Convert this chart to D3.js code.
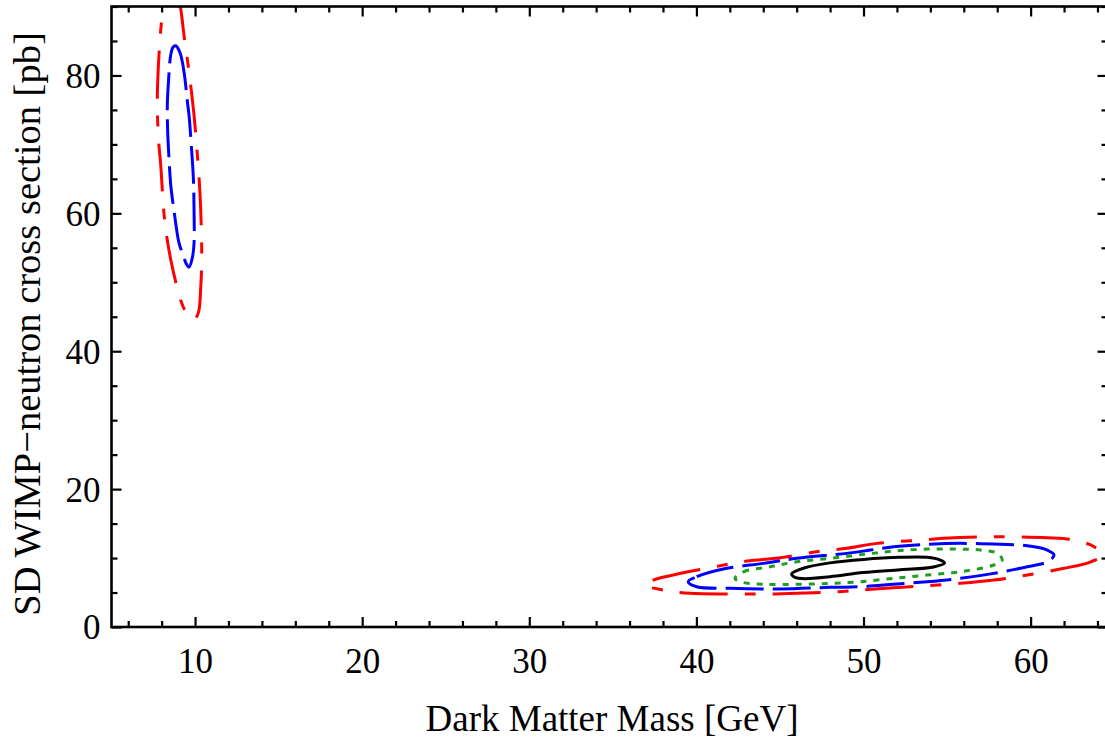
<!DOCTYPE html>
<html>
<head>
<meta charset="utf-8">
<script src="https://cdn.jsdelivr.net/npm/d3@7/dist/d3.min.js"></script>
<style>
  html, body { margin: 0; padding: 0; background: #fff; }
  svg { display: block; }
  text { font-family: "Liberation Serif", "DejaVu Serif", serif; fill: #000; }
</style>
</head>
<body>
<svg id="chart" width="1105" height="744"></svg>
<script>
// ---- Data ----
const xDomain = [5, 64.6];
const yDomain = [0, 90];
const xMajorTicks = [10, 20, 30, 40, 50, 60];
const xMinorTicks = [6, 8, 12, 14, 16, 18, 22, 24, 26, 28, 32, 34, 36, 38, 42, 44, 46, 48, 52, 54, 56, 58, 62, 64];
const yMajorTicks = [0, 20, 40, 60, 80];
const yMinorTicks = [5, 10, 15, 25, 30, 35, 45, 50, 55, 65, 70, 75, 85, 90];
const xLabel = "Dark Matter Mass [GeV]";
const yLabel = "SD WIMP\u2212neutron cross section [pb]";

// Low-mass island, outer (red, dash-dot) contour – extends beyond the top
const redLeft = [
  [8.60, 93.5], [8.95, 92.0], [9.14, 89.7], [9.34, 85.8], [9.64, 80.5], [9.94, 74.2],
  [10.14, 68.4], [10.24, 65.2], [10.34, 60.4], [10.40, 53.2], [10.34, 49.3], [10.20, 45.6],
  [9.95, 44.6], [9.70, 44.9], [9.44, 45.7], [9.14, 47.4], [8.64, 52.2], [8.34, 56.1],
  [8.14, 60.0], [7.94, 67.2], [7.84, 69.9], [7.74, 75.7], [7.84, 82.9], [8.04, 88.7], [8.30, 92.0]
];
// Low-mass island, inner (blue, dashed) contour
const blueLeft = [
  [8.84, 84.3], [9.10, 83.3], [9.34, 80.5], [9.55, 76.0], [9.64, 74.2], [9.80, 69.0],
  [9.90, 65.0], [9.94, 60.5], [9.94, 55.7], [9.84, 53.6], [9.64, 52.2], [9.45, 52.8],
  [9.34, 53.6], [9.04, 55.7], [8.74, 60.4], [8.55, 64.0], [8.44, 68.0], [8.36, 72.0],
  [8.34, 75.7], [8.42, 79.5], [8.54, 82.9], [8.68, 84.1]
];
// High-mass island contours
const redRight = [
  [36.92, 6.09], [37.42, 6.81], [38.62, 7.54], [41.42, 8.88], [43.02, 9.57], [45.01, 10.04],
  [47.41, 11.01], [49.01, 11.41], [50.81, 12.13], [53.41, 12.61], [54.80, 12.86], [57.80, 13.09],
  [61.00, 12.94], [62.60, 12.61], [63.80, 11.64], [64.30, 10.43], [63.60, 9.46], [62.00, 8.51],
  [59.80, 7.54], [57.80, 6.81], [55.80, 6.33], [53.81, 5.99], [51.80, 5.70], [49.81, 5.36],
  [48.41, 5.12], [46.01, 4.88], [44.01, 4.78], [42.01, 4.78], [39.62, 4.88], [38.02, 5.36]
];
const blueRight = [
  [39.51, 6.57], [40.02, 7.29], [41.82, 8.51], [44.01, 9.23], [46.01, 9.96], [49.01, 10.68],
  [50.41, 11.16], [51.80, 11.64], [53.81, 11.99], [55.80, 12.13], [58.20, 11.99], [59.80, 11.78],
  [61.00, 11.16], [61.40, 10.43], [61.00, 9.46], [59.80, 8.74], [57.80, 7.78], [55.80, 7.06],
  [53.81, 6.57], [51.80, 6.19], [49.81, 5.84], [48.01, 5.75], [45.01, 5.51], [42.01, 5.61], [40.02, 5.84]
];
const greenRight = [
  [42.31, 7.06], [42.81, 8.01], [44.41, 8.74], [46.01, 9.46], [48.01, 9.96], [50.01, 10.54],
  [51.80, 11.01], [53.81, 11.30], [55.80, 11.30], [57.00, 11.16], [58.00, 10.68], [58.30, 9.71],
  [57.80, 8.99], [55.80, 8.01], [53.81, 7.54], [51.80, 7.06], [49.81, 6.57], [48.01, 6.33],
  [46.01, 6.19], [44.01, 6.19], [42.61, 6.57]
];
const blackRight = [
  [45.70, 7.70], [46.50, 8.60], [48.00, 9.30], [50.00, 9.80], [52.20, 10.10], [53.80, 10.10],
  [54.60, 9.70], [54.85, 9.30], [54.20, 8.70], [52.20, 8.30], [50.00, 7.90], [48.00, 7.30],
  [46.50, 7.00], [45.90, 7.20]
];

const contours = [
  { name: "red-left", pts: redLeft, color: "#ff0000", dash: "48,17,11,17" },
  { name: "blue-left", pts: blueLeft, color: "#0000ff", dash: "38,9" },
  { name: "red-right", pts: redRight, color: "#ff0000", dash: "48,17,11,17" },
  { name: "blue-right", pts: blueRight, color: "#0000ff", dash: "38,9" },
  { name: "green-right", pts: greenRight, color: "#1f9e1f", dash: "6,7" },
  { name: "black-right", pts: blackRight, color: "#000000", dash: null }
];

// ---- Layout ----
const svg = d3.select("#chart");
const margin = { left: 111.5, top: 6.5 };
const plotW = 996, plotH = 620.5;
const x = d3.scaleLinear().domain(xDomain).range([margin.left, margin.left + plotW]);
const y = d3.scaleLinear().domain(yDomain).range([margin.top + plotH, margin.top]);

svg.append("defs").append("clipPath").attr("id", "plotclip")
  .append("rect").attr("x", margin.left).attr("y", margin.top)
  .attr("width", plotW).attr("height", plotH);

// Contours
const line = d3.line().x(d => x(d[0])).y(d => y(d[1])).curve(d3.curveCatmullRomClosed.alpha(0.5));
const g = svg.append("g").attr("clip-path", "url(#plotclip)");
contours.forEach(c => {
  g.append("path")
    .attr("d", line(c.pts))
    .attr("fill", "none")
    .attr("stroke", c.color)
    .attr("stroke-width", 3)
    .attr("stroke-dasharray", c.dash)
    .attr("stroke-linecap", "butt");
});

// Axes (ticks inward)
function styleAxis(sel) {
  sel.select(".domain").remove();
  sel.selectAll("line").attr("stroke", "#000").attr("stroke-width", 2.2);
}
const yBase = margin.top + plotH, xRight = margin.left + plotW;

// bottom
const bMaj = svg.append("g").attr("transform", `translate(0,${yBase})`)
  .call(d3.axisBottom(x).tickValues(xMajorTicks).tickSize(-10).tickFormat(d3.format("d")));
styleAxis(bMaj);
bMaj.selectAll("text").attr("y", 46).attr("dy", null)
  .style("font-size", "35px").style("font-family", "Liberation Serif, serif");
const bMin = svg.append("g").attr("transform", `translate(0,${yBase})`)
  .call(d3.axisBottom(x).tickValues(xMinorTicks).tickSize(-6).tickFormat(""));
styleAxis(bMin);

// top
const tMaj = svg.append("g").attr("transform", `translate(0,${margin.top})`)
  .call(d3.axisTop(x).tickValues(xMajorTicks).tickSize(-10).tickFormat(""));
styleAxis(tMaj);
const tMin = svg.append("g").attr("transform", `translate(0,${margin.top})`)
  .call(d3.axisTop(x).tickValues(xMinorTicks).tickSize(-6).tickFormat(""));
styleAxis(tMin);

// left
const lMaj = svg.append("g").attr("transform", `translate(${margin.left},0)`)
  .call(d3.axisLeft(y).tickValues(yMajorTicks).tickSize(-10).tickFormat(d3.format("d")));
styleAxis(lMaj);
lMaj.selectAll("text").attr("x", -11).attr("dy", "0.34em")
  .style("font-size", "35px").style("font-family", "Liberation Serif, serif");
const lMin = svg.append("g").attr("transform", `translate(${margin.left},0)`)
  .call(d3.axisLeft(y).tickValues(yMinorTicks).tickSize(-6).tickFormat(""));
styleAxis(lMin);

// right
const rMaj = svg.append("g").attr("transform", `translate(${xRight},0)`)
  .call(d3.axisRight(y).tickValues(yMajorTicks).tickSize(-10).tickFormat(""));
styleAxis(rMaj);
const rMin = svg.append("g").attr("transform", `translate(${xRight},0)`)
  .call(d3.axisRight(y).tickValues(yMinorTicks).tickSize(-6).tickFormat(""));
styleAxis(rMin);

// frame
svg.append("rect").attr("x", margin.left).attr("y", margin.top)
  .attr("width", plotW).attr("height", plotH)
  .attr("fill", "none").attr("stroke", "#000").attr("stroke-width", 2.6);

// titles
svg.append("text").attr("x", 612).attr("y", 731).attr("text-anchor", "middle")
  .style("font-size", "37px").text(xLabel);
svg.append("text").attr("transform", "translate(40,324) rotate(-90)").attr("text-anchor", "middle")
  .style("font-size", "38.5px").text(yLabel);
</script>
</body>
</html>
